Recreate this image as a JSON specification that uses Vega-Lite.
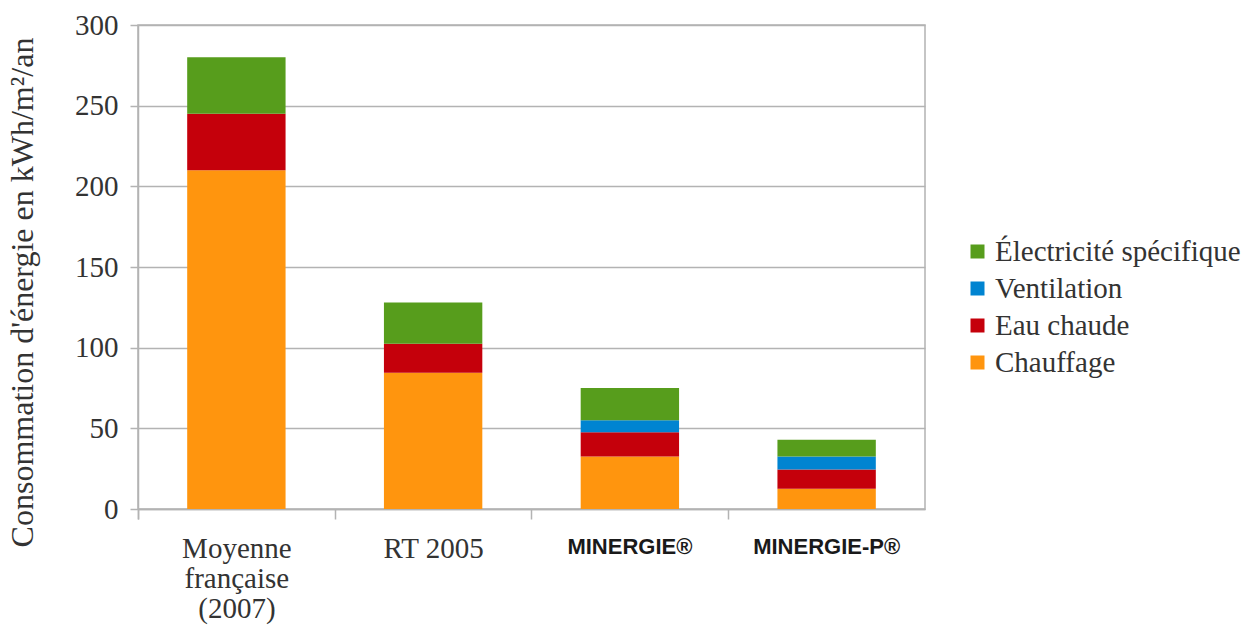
{
  "$schema": "https://vega.github.io/schema/vega-lite/v6.json",
  "autosize": {"type": "none"},
  "padding": {"left": 138, "top": 25, "right": 320, "bottom": 116},
  "width": 787,
  "height": 484,
  "config": {
    "font": "Liberation Serif",
    "view": {"stroke": "#b3b3b3", "strokeWidth": 1.5},
    "axis": {"labelFont": "Liberation Serif", "titleFont": "Liberation Serif", "labelColor": "#333333", "titleColor": "#333333", "domainColor": "#b3b3b3", "tickColor": "#b3b3b3", "gridColor": "#b3b3b3", "domainWidth": 1.5, "tickWidth": 1.5, "gridWidth": 1.5}
  },
  "data": {
    "values": [
      {"cat": "Moyenne française (2007)", "poste": "Chauffage", "ord": 1, "val": 210},
      {"cat": "Moyenne française (2007)", "poste": "Eau chaude", "ord": 2, "val": 35},
      {"cat": "Moyenne française (2007)", "poste": "Électricité spécifique", "ord": 4, "val": 35},
      {"cat": "RT 2005", "poste": "Chauffage", "ord": 1, "val": 84.5},
      {"cat": "RT 2005", "poste": "Eau chaude", "ord": 2, "val": 18},
      {"cat": "RT 2005", "poste": "Électricité spécifique", "ord": 4, "val": 25.5},
      {"cat": "MINERGIE®", "poste": "Chauffage", "ord": 1, "val": 32.5},
      {"cat": "MINERGIE®", "poste": "Eau chaude", "ord": 2, "val": 15},
      {"cat": "MINERGIE®", "poste": "Ventilation", "ord": 3, "val": 7.5},
      {"cat": "MINERGIE®", "poste": "Électricité spécifique", "ord": 4, "val": 20},
      {"cat": "MINERGIE-P®", "poste": "Chauffage", "ord": 1, "val": 12.5},
      {"cat": "MINERGIE-P®", "poste": "Eau chaude", "ord": 2, "val": 12},
      {"cat": "MINERGIE-P®", "poste": "Ventilation", "ord": 3, "val": 8},
      {"cat": "MINERGIE-P®", "poste": "Électricité spécifique", "ord": 4, "val": 10.5}
    ]
  },
  "resolve": {"axis": {"x": "independent"}},
  "layer": [
    {
      "mark": {"type": "bar"},
      "encoding": {
        "x": {
          "field": "cat", "type": "nominal", "sort": ["Moyenne française (2007)", "RT 2005", "MINERGIE®", "MINERGIE-P®"],
          "scale": {"paddingInner": 0.5, "paddingOuter": 0.25},
          "axis": {
            "orient": "bottom", "title": null, "labelAngle": 0, "labelFontSize": 29, "labelPadding": 15, "labelLineHeight": 30, "labelLimit": 300,
            "ticks": true, "bandPosition": 0, "tickExtra": true, "tickOffset": -49.2, "labelOffset": 49.2, "tickSize": 10,
            "labelExpr": "datum.value == 'Moyenne française (2007)' ? ['Moyenne', 'française', '(2007)'] : (datum.value == 'RT 2005' ? datum.value : '')"
          }
        },
        "y": {
          "field": "val", "type": "quantitative", "stack": "zero",
          "scale": {"domain": [0, 300], "nice": false},
          "axis": {"title": "Consommation d'énergie en kWh/m²/an", "titleFontSize": 32, "titleFontWeight": "normal", "titleX": -116, "titleY": 267, "titleAngle": 270, "titleBaseline": "middle", "titleAlign": "center", "labelFontSize": 29, "tickSize": 8, "labelPadding": 12, "values": [0, 50, 100, 150, 200, 250, 300]}
        },
        "color": {
          "field": "poste", "type": "nominal",
          "scale": {"domain": ["Électricité spécifique", "Ventilation", "Eau chaude", "Chauffage"], "range": ["#579d1c", "#0084d1", "#c5000b", "#ff950e"]},
          "legend": {"title": null, "orient": "none", "legendX": 825, "legendY": 212, "symbolType": "square", "symbolSize": 196, "symbolStrokeWidth": 0, "labelFontSize": 29, "labelColor": "#333333", "labelFont": "Liberation Serif", "labelOffset": 3, "rowPadding": 7, "labelLimit": 400}
        },
        "order": {"field": "ord", "type": "quantitative"}
      }
    },
    {
      "mark": {"type": "bar", "opacity": 0},
      "encoding": {
        "x": {
          "field": "cat", "type": "nominal", "sort": ["Moyenne française (2007)", "RT 2005", "MINERGIE®", "MINERGIE-P®"],
          "axis": {
            "orient": "bottom", "title": null, "labelAngle": 0, "labelFontSize": 22, "labelFontWeight": "bold", "labelColor": "#1a1a1a",
            "labelFont": "Liberation Sans",
            "labelPadding": 27, "labelLimit": 300, "ticks": false, "domain": false, "grid": false,
            "labelExpr": "(datum.value == 'Moyenne française (2007)' || datum.value == 'RT 2005') ? '' : datum.value"
          }
        },
        "y": {
          "field": "val", "type": "quantitative", "stack": "zero",
          "scale": {"domain": [0, 300], "nice": false},
          "axis": {"title": "Consommation d'énergie en kWh/m²/an", "titleFontSize": 32, "titleFontWeight": "normal", "titleX": -116, "titleY": 267, "titleAngle": 270, "titleBaseline": "middle", "titleAlign": "center", "labelFontSize": 29, "tickSize": 8, "labelPadding": 12, "values": [0, 50, 100, 150, 200, 250, 300]}
        }
      }
    }
  ]
}
